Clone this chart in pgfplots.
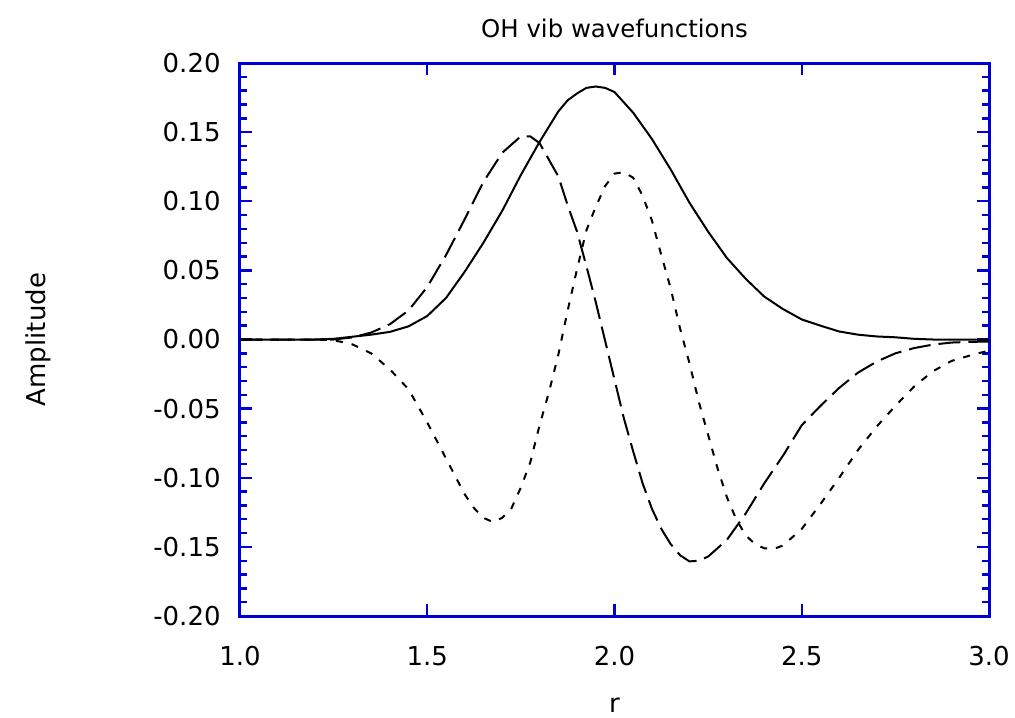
\documentclass[border=0pt]{standalone}
\usepackage{fontspec}
\setmainfont{DejaVu Sans}
\usepackage{pgfplots}
\pgfplotsset{compat=1.18}
\definecolor{axblue}{RGB}{0,0,210}

% psi_0, psi_1, psi_2
\pgfplotstableread{
r      a
1.00   0.0
1.20   0.0
1.25   0.0005
1.30   0.002
1.35   0.0035
1.40   0.0055
1.45   0.0095
1.50   0.017
1.55   0.030
1.60   0.049
1.65   0.070
1.70   0.093
1.75   0.119
1.80   0.143
1.85   0.165
1.875  0.173
1.90   0.178
1.925  0.182
1.95   0.183
1.975  0.182
2.00   0.179
2.05   0.164
2.10   0.145
2.15   0.123
2.20   0.099
2.25   0.078
2.30   0.059
2.35   0.044
2.40   0.031
2.45   0.022
2.50   0.0145
2.55   0.010
2.60   0.0058
2.65   0.0035
2.70   0.0022
2.75   0.0016
2.80   0.0005
2.85   0.0
3.00   0.0
}\vzero

\pgfplotstableread{
r      a
1.00   0.0
1.25   0.0
1.30   0.0015
1.35   0.005
1.40   0.011
1.45   0.021
1.50   0.038
1.55   0.061
1.60   0.087
1.65   0.114
1.70   0.135
1.75   0.147
1.775  0.147
1.80   0.142
1.85   0.118
1.875  0.097
1.90   0.078
1.925  0.053
1.95   0.027
1.975  -0.001
2.00   -0.029
2.025  -0.057
2.05   -0.081
2.075  -0.104
2.10   -0.1225
2.125  -0.137
2.15   -0.148
2.175  -0.156
2.20   -0.1605
2.225  -0.160
2.25   -0.157
2.275  -0.151
2.30   -0.145
2.35   -0.126
2.40   -0.104
2.45   -0.084
2.50   -0.062
2.55   -0.048
2.60   -0.035
2.65   -0.024
2.70   -0.016
2.75   -0.010
2.80   -0.0062
2.85   -0.0037
2.90   -0.0022
2.95   -0.0017
3.00   -0.0015
}\vone

\pgfplotstableread{
r      a
1.00   0.0
1.20   0.0
1.25   -0.0005
1.30   -0.0035
1.35   -0.010
1.40   -0.0215
1.45   -0.036
1.50   -0.060
1.55   -0.086
1.60   -0.112
1.625  -0.122
1.65   -0.129
1.675  -0.132
1.70   -0.129
1.725  -0.122
1.75   -0.107
1.775  -0.089
1.80   -0.062
1.825  -0.038
1.85   -0.011
1.875  0.021
1.90   0.051
1.925  0.079
1.95   0.096
1.975  0.111
2.00   0.120
2.025  0.121
2.05   0.117
2.075  0.104
2.10   0.086
2.125  0.061
2.15   0.037
2.175  0.008
2.20   -0.017
2.225  -0.045
2.25   -0.069
2.275  -0.093
2.30   -0.114
2.325  -0.130
2.35   -0.1415
2.375  -0.148
2.40   -0.151
2.425  -0.1515
2.45   -0.149
2.50   -0.137
2.55   -0.119
2.60   -0.100
2.65   -0.080
2.70   -0.063
2.75   -0.048
2.80   -0.034
2.85   -0.023
2.90   -0.0155
2.95   -0.0115
3.00   -0.008
}\vtwo

\begin{document}
\begin{tikzpicture}
\path[use as bounding box] (-120pt,-50.5pt) rectangle (387.5pt,308pt);
\begin{axis}[
  at={(0,0)}, anchor=south west,
  scale only axis,
  width=374.5pt, height=276.5pt,
  xmin=1, xmax=3, ymin=-0.2, ymax=0.2,
  xtick={1,1.5,2,2.5,3},
  ytick={-0.2,-0.15,-0.1,-0.05,0,0.05,0.1,0.15,0.2},
  minor y tick num=4,
  tick align=inside,
  major tick length=6pt,
  minor tick length=3.3pt,
  every tick/.style={draw=axblue, line width=1.2pt},
  axis line style={draw=axblue, line width=1.5pt},
  tick label style={font=\fontsize{13}{15}\selectfont, inner sep=0pt},
  /pgf/number format/assume math mode=true,
  xticklabel style={/pgf/number format/.cd, fixed, fixed zerofill, precision=1, /tikz/.cd, anchor=north, yshift=-15pt},
  yticklabel style={/pgf/number format/.cd, fixed, fixed zerofill, precision=2, /tikz/.cd, anchor=east, xshift=-9.5pt},
  title={OH vib wavefunctions},
  title style={font=\fontsize{12.2}{14}\selectfont, at={(axis description cs:0.5,1)}, anchor=center, yshift=11.5pt},
  xlabel={r},
  xlabel style={font=\fontsize{13}{15}\selectfont, at={(axis description cs:0.5,0)}, anchor=center, yshift=-44.5pt},
  ylabel={Amplitude},
  ylabel style={font=\fontsize{13}{15}\selectfont, at={(axis description cs:-0.2697,0.5)}, anchor=center},
]
\addplot[black, line width=1pt] table[x=r, y=a] {\vzero};
\addplot[black, line width=1pt, dash pattern=on 11pt off 4pt] table[x=r, y=a] {\vone};
\addplot[black, line width=1pt, dash pattern=on 3.5pt off 4.5pt] table[x=r, y=a] {\vtwo};
\end{axis}
\end{tikzpicture}
\end{document}
